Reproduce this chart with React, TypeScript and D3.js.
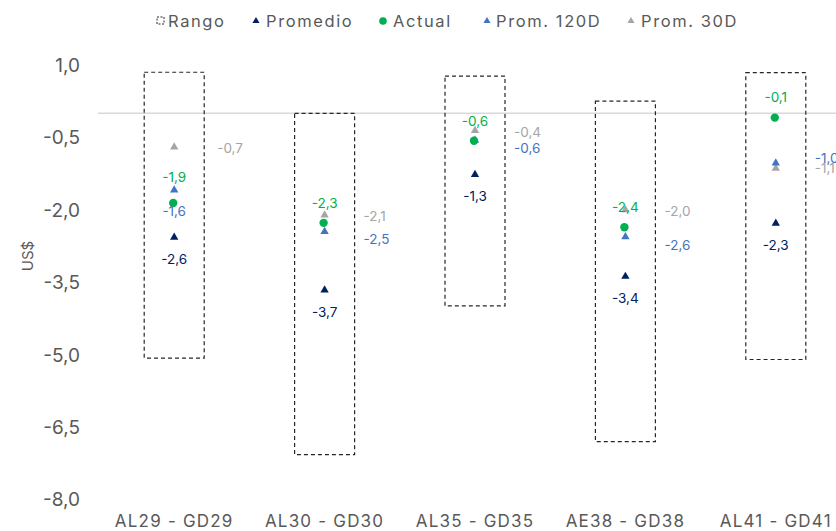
import React from "react";
import * as d3 from "d3";

const categories = ["AL29 - GD29", "AL30 - GD30", "AL35 - GD35", "AE38 - GD38", "AL41 - GD41"];
const rangeMax = [0.85, 0.0, 0.77, 0.25, 0.84];
const rangeMin = [-5.07, -7.07, -3.99, -6.8, -5.1];
const promedio = [-2.57, -3.66, -1.27, -3.38, -2.28];
const actual = [-1.86, -2.27, -0.57, -2.36, -0.09];
const prom120 = [-1.59, -2.45, -0.56, -2.56, -1.03];
const prom30 = [-0.7, -2.11, -0.36, -2.0, -1.14];
const yTicks = [1.0, -0.5, -2.0, -3.5, -5.0, -6.5, -8.0];

const W = 836;
const H = 531;
const FONT = "Inter, 'Noto Sans', sans-serif";
const TEXT = "#595959";
const C_PROM = "#002060";
const C_ACT = "#00b050";
const C_120 = "#4472c4";
const C_30 = "#a5a5a5";

const fmt = (v: number) => d3.format(".1f")(v).replace(".", ",").replace("−", "-");

export default function App() {
  const x = d3.scaleBand<string>().domain(categories).range([99, 851]).padding(0);
  const y = d3.scaleLinear().domain([-8, 1]).range([499.5, 65]);
  const cx = (i: number) => (x(categories[i]) as number) + x.bandwidth() / 2;
  const tri = d3.symbol().type(d3.symbolTriangle).size(30)() as string;
  const triSmall = d3.symbol().type(d3.symbolTriangle).size(22)() as string;
  const boxW = 60;

  const legend = [
    { key: "Rango", x: 157, tx: 168 },
    { key: "Promedio", x: 256, tx: 266 },
    { key: "Actual", x: 383, tx: 393 },
    { key: "Prom. 120D", x: 487, tx: 496 },
    { key: "Prom. 30D", x: 631, tx: 641 },
  ];

  return (
    <svg width={W} height={H} style={{ position: "absolute", left: 0, top: 0, background: "#fff" }} fontFamily={FONT}>
      {/* legend */}
      <g>
        {legend.map((l, i) => (
          <g key={l.key}>
            {i === 0 && (
              <rect x={l.x} y={17} width={7} height={7} fill="none" stroke="#262626" strokeWidth={1} strokeDasharray="2,1.5" />
            )}
            {i === 1 && <path d={triSmall} transform={`translate(${l.x},21)`} fill={C_PROM} />}
            {i === 2 && <circle cx={l.x} cy={21} r={3.8} fill={C_ACT} />}
            {i === 3 && <path d={triSmall} transform={`translate(${l.x},21)`} fill={C_120} />}
            {i === 4 && <path d={triSmall} transform={`translate(${l.x},21)`} fill={C_30} />}
            <text x={l.tx} y={27.3} fontSize={16.5} letterSpacing={1.6} fill={TEXT}>
              {l.key}
            </text>
          </g>
        ))}
      </g>

      {/* y axis tick labels */}
      {yTicks.map((t) => (
        <text key={t} x={80} y={y(t)} dy="0.36em" textAnchor="end" fontSize={19} fill={TEXT}>
          {fmt(t)}
        </text>
      ))}
      <text transform={`translate(33,256) rotate(-90)`} textAnchor="middle" fontSize={15} fill={TEXT}>
        US$
      </text>

      {/* zero line */}
      <line x1={98} x2={W} y1={y(0)} y2={y(0)} stroke="#d9d9d9" strokeWidth={1.5} />

      {/* range boxes */}
      {categories.map((c, i) => (
        <rect
          key={c}
          x={cx(i) - boxW / 2}
          y={y(rangeMax[i])}
          width={boxW}
          height={y(rangeMin[i]) - y(rangeMax[i])}
          fill="none"
          stroke="#262626"
          strokeWidth={1.2}
          strokeDasharray="4,3"
        />
      ))}

      {/* markers */}
      {categories.map((c, i) => (
        <g key={c + "m"}>
          <path d={tri} transform={`translate(${cx(i)},${y(prom30[i])})`} fill={C_30} />
          <path d={tri} transform={`translate(${cx(i)},${y(prom120[i])})`} fill={C_120} />
          <circle cx={cx(i) - 1} cy={y(actual[i])} r={4.2} fill={C_ACT} />
          <path d={tri} transform={`translate(${cx(i)},${y(promedio[i])})`} fill={C_PROM} />
        </g>
      ))}

      {/* labels */}
      {categories.map((c, i) => (
        <g key={c + "l"} fontSize={13.5}>
          <text x={cx(i)} y={y(promedio[i]) + 22} dy="0.36em" textAnchor="middle" fill={C_PROM}>
            {fmt(promedio[i])}
          </text>
          <text x={cx(i)} y={y(actual[i]) - (i === 0 ? 26 : 20)} dy="0.36em" textAnchor="middle" fill={C_ACT}>
            {fmt(actual[i])}
          </text>
          {i === 0 ? (
            <text x={cx(i)} y={y(prom120[i]) + 21} dy="0.36em" textAnchor="middle" fill={C_120}>
              {fmt(prom120[i])}
            </text>
          ) : (
            <text x={cx(i) + 39} y={y(prom120[i]) + (i === 4 ? -5 : 8)} dy="0.36em" fill={C_120}>
              {fmt(prom120[i])}
            </text>
          )}
          <text x={cx(i) + (i === 0 ? 43 : 39)} y={y(prom30[i]) + (i === 4 ? 0 : 1)} dy="0.36em" fill={C_30}>
            {fmt(prom30[i])}
          </text>
        </g>
      ))}

      {/* x category labels */}
      {categories.map((c, i) => (
        <text key={c + "x"} x={cx(i)} y={526.5} textAnchor="middle" fontSize={17} letterSpacing={1.2} fill={TEXT}>
          {c}
        </text>
      ))}
    </svg>
  );
}
